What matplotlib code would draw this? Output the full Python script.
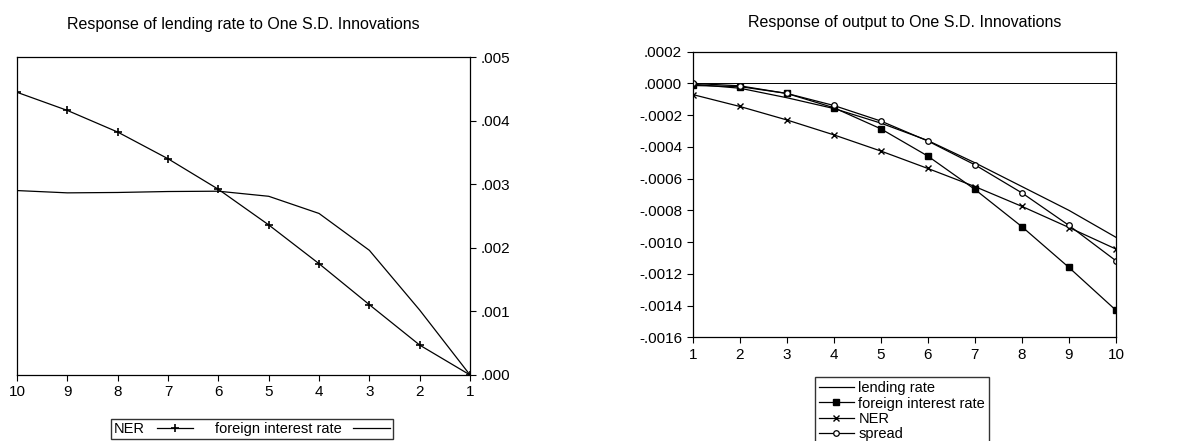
import matplotlib
matplotlib.use('Agg')
import matplotlib.pyplot as plt
from matplotlib.ticker import FuncFormatter

plt.rcParams['font.family'] = ['Liberation Sans', 'DejaVu Sans']
plt.rcParams['font.size'] = 11

periods = [1, 2, 3, 4, 5, 6, 7, 8, 9, 10]

# left panel: response of lending rate
lend_foreign = [0.0, 0.00102, 0.00196, 0.00254, 0.00281, 0.00289, 0.002885, 0.00287, 0.002864, 0.0029]
lend_ner = [0.0, 0.00047, 0.001105, 0.00175, 0.00236, 0.00292, 0.0034, 0.00382, 0.00416, 0.004445]

# right panel: response of output
out_lending = [-0.000005, -0.00003, -0.00009, -0.000158, -0.00025, -0.00036, -0.0005, -0.00065, -0.0008, -0.00097]
out_foreign = [-0.000013, -0.00002, -0.000063, -0.000153, -0.000286, -0.000458, -0.000668, -0.000903, -0.00116, -0.00143]
out_ner = [-0.00007, -0.000145, -0.00023, -0.000324, -0.000426, -0.000536, -0.00065, -0.000775, -0.000908, -0.001044]
out_spread = [0.0, -0.000015, -0.000063, -0.000139, -0.000237, -0.000363, -0.000513, -0.00069, -0.000895, -0.001118]


def fmt(digits):
    def f(v, pos):
        s = '%.*f' % (digits, v)
        if s.startswith('-0'):
            s = '-' + s[2:]
        elif s.startswith('0'):
            s = s[1:]
        return s
    return FuncFormatter(f)


fig = plt.figure(figsize=(11.84, 4.41), dpi=100)

# left panel (mirrored layout)
ax1 = fig.add_axes([0.0144, 0.1497, 0.3826, 0.721])
ax1.plot(periods, lend_foreign, color='black', lw=0.9, label='foreign interest rate')
ax1.plot(periods, lend_ner, color='black', lw=0.9, marker='+', ms=6, mew=1.2, label='NER')
ax1.set_xlim(10, 1)
ax1.set_ylim(0, 0.005)
ax1.set_xticks(periods)
ax1.set_yticks([0, 0.001, 0.002, 0.003, 0.004, 0.005])
ax1.yaxis.set_major_formatter(fmt(3))
ax1.yaxis.tick_right()
ax1.tick_params(direction='out', length=4, width=0.8, labelsize=11)
ax1.set_title('Response of lending rate to One S.D. Innovations', fontsize=11.5, pad=20)
h, l = ax1.get_legend_handles_labels()
fig.legend(h[::-1], l[::-1], ncol=2, loc='upper left', bbox_to_anchor=(0.0937, 0.05),
           borderaxespad=0, frameon=True, fancybox=False, edgecolor='black', fontsize=10.5,
           markerfirst=False, handlelength=2.5, borderpad=0.2, columnspacing=1.5)

# right panel
ax2 = fig.add_axes([0.585, 0.2351, 0.3576, 0.6477])
ax2.axhline(0, color='black', lw=0.7)
ax2.plot(periods, out_lending, color='black', lw=0.9, label='lending rate')
ax2.plot(periods, out_foreign, color='black', lw=0.9, marker='s', ms=5, label='foreign interest rate')
ax2.plot(periods, out_ner, color='black', lw=0.9, marker='x', ms=4.5, mew=1.0, label='NER')
ax2.plot(periods, out_spread, color='black', lw=0.9, marker='o', ms=4, mfc='white', mew=0.9, label='spread')
ax2.set_xlim(1, 10)
ax2.set_ylim(-0.0016, 0.0002)
ax2.set_xticks(periods)
ax2.set_yticks([0.0002, 0, -0.0002, -0.0004, -0.0006, -0.0008, -0.001, -0.0012, -0.0014, -0.0016])
ax2.yaxis.set_major_formatter(fmt(4))
ax2.tick_params(direction='out', length=4, width=0.8, labelsize=11)
ax2.set_title('Response of output to One S.D. Innovations', fontsize=11.5, pad=18)
fig.legend(*ax2.get_legend_handles_labels(), loc='upper left', bbox_to_anchor=(0.688, 0.145),
           borderaxespad=0, frameon=True, fancybox=False, edgecolor='black', fontsize=10.5,
           handlelength=2.4, borderpad=0.3, labelspacing=0.08, handletextpad=0.3)

for ax in (ax1, ax2):
    for sp in ax.spines.values():
        sp.set_linewidth(0.9)

fig.savefig('out.png', dpi=100)
